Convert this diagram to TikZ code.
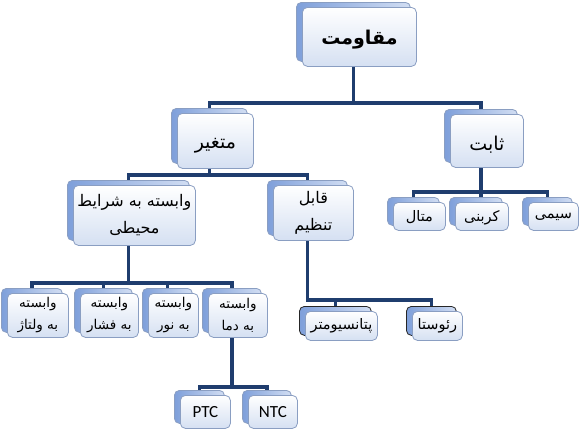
\documentclass[tikz,border=0pt]{standalone}
\usepackage{fontspec}
\setmainfont{DejaVu Sans}
\newfontfamily\pfont[Script=Arabic]{DejaVu Sans}
\newfontfamily\latfont{Carlito}
\TeXXeTstate=1
\pgfdeclarelayer{bg}
\pgfsetlayers{bg,main}
\definecolor{cardline}{HTML}{8A9EC2}
\definecolor{frontbot}{HTML}{D5E0F2}
\definecolor{backleft}{HTML}{7E9FDA}
\definecolor{backright}{HTML}{D2DEF3}
\definecolor{connc}{HTML}{1F3D6E}
\tikzset{
  frontcard/.style={draw=cardline, line width=0.8pt, rounded corners=5pt,
    top color=white, bottom color=frontbot, inner sep=1pt, align=center,
    text=black, font=\pfont\fontsize{12}{18}\selectfont},
  backcard/.style={draw=cardline, line width=0.8pt, rounded corners=5pt,
    left color=backleft, right color=backright, inner sep=0pt},
  darkback/.style={draw=black!85},
  conn/.style={draw=connc, line width=3.3pt},
  bigtext/.style={font=\pfont\bfseries\fontsize{19}{22}\selectfont},
  midtext/.style={font=\pfont\fontsize{19}{22}\selectfont},
  envtext/.style={font=\pfont\fontsize{16}{27}\selectfont},
  smalltext/.style={font=\pfont\fontsize{13.5}{22}\selectfont},
  onetext/.style={font=\pfont\fontsize{14.5}{18}\selectfont},
  lattext/.style={font=\latfont\fontsize{17}{19}\selectfont},
}
% #1 back options, #2 name, #3 x, #4 y, #5 w, #6 h, #7 front options, #8 text
\newcommand\card[8][]{%
  \node[backcard, #1, anchor=north west, minimum width=#5pt, minimum height=#6pt] (#2B) at (#3-6,#4-5) {};
  \node[frontcard, #7, anchor=north west, minimum width=#5pt, minimum height=#6pt] (#2) at (#3,#4) {#8};
}
\newcommand\rtl[1]{\beginR #1\endR}
\newcommand\lowrtl[2]{\raisebox{-#1pt}[\height][\depth]{\beginR #2\endR}}
\begin{document}
\begin{tikzpicture}[x=1pt,y=-1pt]
\useasboundingbox (0,0) rectangle (588,431);

\card{root}{302}{7}{114}{59}{bigtext}{\lowrtl{3}{مقاومت}}
\card{mot}{177}{113}{76}{55}{midtext}{\lowrtl{5}{متغیر}}
\card{sab}{450}{114}{73}{53}{midtext}{\lowrtl{4}{ثابت}}
\card{env}{73}{185}{122}{60}{envtext}{\rtl{وابسته به شرایط}\\\rtl{محیطی}}
\card{qab}{273}{185}{80}{55}{envtext}{\rtl{قابل}\\\rtl{تنظیم}}
\card{met}{393}{202}{52}{28}{onetext}{\lowrtl{1}{متال}}
\card{kar}{455}{202}{53}{28}{onetext}{\lowrtl{1}{کربنی}}
\card{sim}{528}{202}{50}{28}{onetext}{\lowrtl{1}{سیمی}}
\card{vol}{7}{293}{61}{44}{smalltext}{\rtl{وابسته}\\\rtl{به ولتاژ}}
\card{fes}{80}{293}{58}{44}{smalltext}{\rtl{وابسته}\\\rtl{به فشار}}
\card{nur}{148}{293}{50}{44}{smalltext}{\rtl{وابسته}\\\rtl{به نور}}
\card{dam}{208}{293}{59}{44}{smalltext}{\rtl{وابسته}\\\rtl{به دما}}
\card[darkback]{pot}{305}{311}{72}{29}{onetext}{\rtl{پتانسیومتر}}
\card[darkback]{rhe}{412}{311}{50}{29}{onetext}{\rtl{رئوستا}}
\card{ptc}{180}{395}{50}{33}{lattext}{PTC}
\card{ntc}{248}{395}{49}{33}{lattext}{NTC}

\begin{pgfonlayer}{bg}
\fill[white] (0,0) rectangle (588,431);
\coordinate (y1) at (0,103);
\coordinate (y2) at (0,175);
\coordinate (y3) at (0,192);
\coordinate (y4) at (0,283);
\coordinate (y5) at (0,300);
\coordinate (y6) at (0,387);
\draw[conn] (rootB.center) -- (rootB.center |- y1);
\draw[conn] (motB.center) |- (sabB.center |- y1) -- (sabB.center);
\draw[conn] (motB.center) -- (motB.center |- y2);
\draw[conn] (envB.center) |- (qabB.center |- y2) -- (qabB.center);
\draw[conn] (sabB.center) -- (sabB.center |- karB.north);
\draw[conn] (metB.center) |- (simB.center |- y3) -- (simB.center);
\draw[conn] (envB.center) -- (envB.center |- y4);
\draw[conn] (volB.center) |- (damB.center |- y4) -- (damB.center);
\draw[conn] (fesB.center) -- (fesB.center |- y4);
\draw[conn] (nurB.center) -- (nurB.center |- y4);
\draw[conn] (qabB.center) |- (rheB.center |- y5) -- (rheB.center);
\draw[conn] (potB.center) -- (potB.center |- y5);
\draw[conn] (damB.center) -- (damB.center |- y6);
\draw[conn] (ptcB.center) |- (ntcB.center |- y6) -- (ntcB.center);
\end{pgfonlayer}
\end{tikzpicture}
\end{document}
